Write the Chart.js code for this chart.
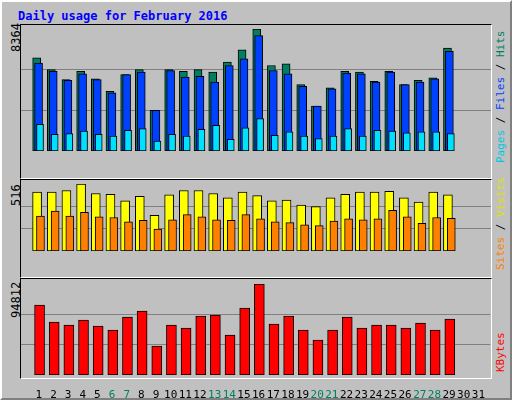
<!DOCTYPE html>
<html>
<head>
<meta charset="utf-8">
<script src="https://cdn.jsdelivr.net/npm/chart.js@4"></script>
<style>
body { margin: 0; background: #fff; }
#frame { position: absolute; left: 0; top: 0; width: 508px; height: 396px; background: #c0c0c0;
  border-top: 2px solid #ffffff; border-left: 2px solid #ffffff; border-right: 2px solid #808080; border-bottom: 2px solid #808080; }
.txt { position: absolute; font-family: "DejaVu Sans Mono", monospace; font-size: 12px; white-space: nowrap; }
.side { font-size: 11px; }
.panel { position: absolute; left: 20px; width: 470px; border: 1px solid #000; border-right-color: #fff; border-bottom-color: #fff; }
canvas { position: absolute; }
.rot { transform-origin: left top; transform: rotate(-90deg); }
</style>
</head>
<body>
<div id="frame"></div>
<div class="txt" style="left:18px;top:9px;color:#0000ff;font-weight:bold;">Daily usage for February 2016</div>
<div class="panel" style="top:24px;height:153px;"></div>
<div class="panel" style="top:179px;height:97px;"></div>
<div class="panel" style="top:278px;height:99px;"></div>
<div class="txt rot" style="left:9px;top:52px;color:#000;">8364</div>
<div class="txt rot" style="left:9px;top:206px;color:#000;">516</div>
<div class="txt rot" style="left:9px;top:318px;color:#000;">94812</div>
<div class="txt side rot" style="left:494px;top:163px;"><span style="color:#00c8e0">Pages</span> / <span style="color:#0040ff">Files</span> / <span style="color:#008060">Hits</span></div>
<div class="txt side rot" style="left:494px;top:270px;"><span style="color:#ff8000">Sites</span> / <span style="color:#e0e000">Visits</span></div>
<div class="txt side rot" style="left:494px;top:372px;color:#ff0000;">KBytes</div>
<canvas id="c1" width="470" height="147" style="left:21px;top:29px;"></canvas>
<canvas id="c2" width="470" height="92" style="left:21px;top:184px;"></canvas>
<canvas id="c3" width="470" height="116" style="left:21px;top:284px;"></canvas>
<script>
var days = [1,2,3,4,5,6,7,8,9,10,11,12,13,14,15,16,17,18,19,20,21,22,23,24,25,26,27,28,29];
var weekends = [6,7,13,14,20,21,27,28];
var hits = [6393,5577,4894,5463,4951,4097,5235,5577,2789,5577,5463,5577,5406,6089,6943,8364,5861,5975,4553,3073,4325,5463,5406,4780,5463,4553,4837,5008,7056];
var files = [6032,5463,4837,5292,4894,3983,5235,5406,2789,5520,5065,5121,4723,5861,6317,7910,5520,5292,4439,3073,4268,5349,5292,4723,5406,4553,4723,4951,6829];
var pages = [1821,1138,1195,1366,1138,1024,1423,1537,683,1138,1024,1480,1764,797,1593,2219,1081,1309,1024,854,1024,1537,1024,1423,1366,1252,1309,1309,1195];
var visits = [454,454,466,516,443,437,387,421,275,432,466,466,443,409,454,426,387,393,353,342,409,437,454,454,460,409,376,454,432];
var sites = [269,308,269,297,264,258,224,236,168,241,280,264,241,236,280,247,224,219,202,196,230,247,241,247,314,264,213,258,252];
var kbytes = [72933,55221,52095,57305,51053,46886,60430,66682,30215,52095,48969,61472,62514,41676,69807,94812,53137,61472,46886,36467,46886,60430,48969,52095,52095,48969,54179,46886,58346];

function pts(vals, shift) {
    return vals.map(function (v, i) { return { x: days[i] + shift, y: v }; });
}

function ds(vals, shift, color, width, order) {
    return { data: pts(vals, shift), backgroundColor: color, borderColor: "#000", borderWidth: 1,
             barThickness: width, grouped: false, order: order, borderSkipped: false };
}

function makeChart(id, datasets, max, showX) {
    new Chart(document.getElementById(id), {
        type: "bar",
        data: { datasets: datasets },
        options: {
            responsive: false, animation: false, devicePixelRatio: 1,
            layout: { padding: 0 },
            plugins: { legend: { display: false }, tooltip: { enabled: false } },
            scales: {
                x: {
                    type: "linear", min: 0.3, max: 31.3, display: showX,
                    grid: { display: false }, border: { display: false },
                    afterFit: function (s) { s.height = 25; },
                    afterBuildTicks: function (s) {
                        s.ticks = [];
                        for (var d = 1; d <= 31; d++) s.ticks.push({ value: d });
                    },
                    ticks: {
                        autoSkip: false, maxRotation: 0, padding: 6,
                        font: { family: "DejaVu Sans Mono", size: 11 },
                        color: function (c) { return weekends.indexOf(c.tick.value) >= 0 ? "#008060" : "#000"; },
                        callback: function (v) { return String(v); }
                    }
                },
                y: {
                    min: 0, max: max, afterFit: function (s) { s.width = 0; },
                    ticks: { display: false, stepSize: max / 3 },
                    grid: { color: "#808080", drawTicks: false, lineWidth: function (c) { return c.tick.value > 0 && c.tick.value < max ? 1 : 0; } },
                    border: { display: false }
                }
            }
        }
    });
}

makeChart("c1", [
    ds(pages, 0.08, "#00e0ff", 7, 1),
    ds(files, -0.02, "#0040ff", 8, 2),
    ds(hits, -0.15, "#008060", 8, 3)
], 8364, false);
makeChart("c2", [
    ds(sites, 0.11, "#ff8000", 8, 1),
    ds(visits, -0.12, "#ffff00", 9, 2)
], 516, false);
makeChart("c3", [
    ds(kbytes, 0.05, "#ff0000", 10, 1)
], 94812, true);
</script>
</body>
</html>
